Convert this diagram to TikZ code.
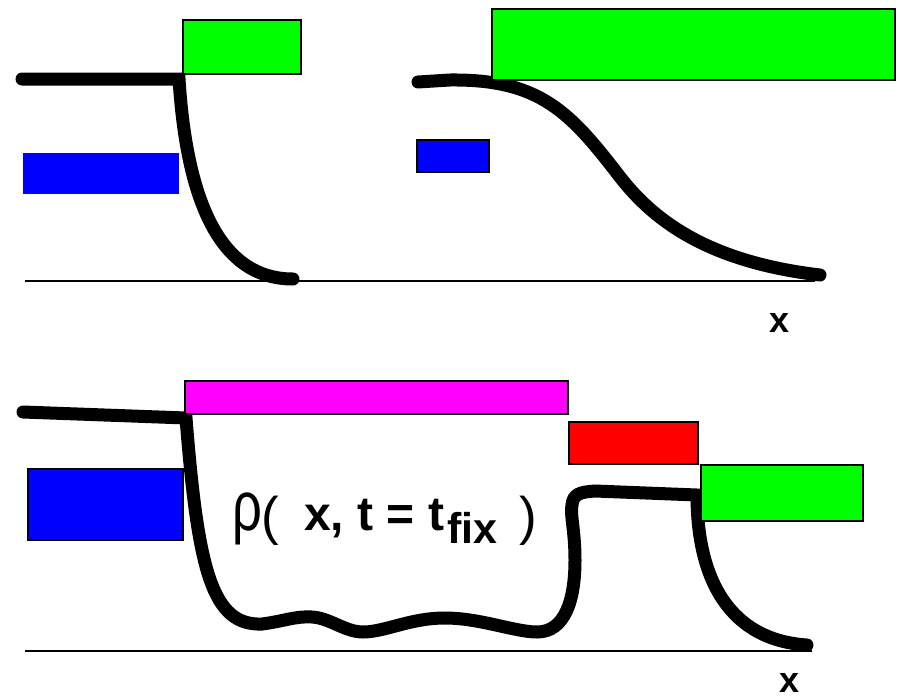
\documentclass[tikz,border=0pt]{standalone}
\usepackage{fontspec}
\setmainfont{Liberation Sans}
\begin{document}
\begin{tikzpicture}[x=1pt,y=-1pt,
  curve/.style={line width=13pt,line cap=round,line join=miter,black},
  axis/.style={line width=2pt,black},
  bar/.style={draw=black,line width=1.3pt},
  lbl/.style={inner sep=0pt,anchor=base west}]
\definecolor{pgreen}{RGB}{0,255,0}
\definecolor{pblue}{RGB}{0,0,255}
\definecolor{pmag}{RGB}{255,0,255}
\definecolor{pred}{RGB}{255,0,0}
\useasboundingbox[fill=white] (0,0) rectangle (899,699);
% axes
\draw[axis] (25,281) -- (815,281);
\draw[axis] (25,651) -- (812,651);
% curves
\draw[curve] (22,79) -- (179,79) .. controls (186,190) and (215,279) .. (293,279);
\draw[curve] (418,82) -- (450,80) .. controls (540,79) and (570,112) .. (620,177)
  .. controls (655,222) and (710,262) .. (820,275);
\draw[curve] (23,412) -- (186,418) .. controls (198,570) and (212,626) .. (262,624)
  .. controls (285,621) and (295,616) .. (312,617)
  .. controls (330,618) and (345,632) .. (363,632)
  .. controls (385,632) and (410,618) .. (445,618)
  .. controls (480,618) and (515,632) .. (537,632)
  .. controls (565,632) and (575,600) .. (575,560)
  .. controls (575,530) and (570,515) .. (572,505)
  .. controls (573,494) and (580,492) .. (595,491)
  -- (697,495) .. controls (697,580) and (730,640) .. (807,645);
% boxes
\draw[fill=pgreen,bar] (183,20) rectangle (301,74);
\fill[pblue] (23,153) rectangle (179,194);
\draw[fill=pgreen,bar] (492,9) rectangle (895,80);
\draw[fill=pblue,bar] (417,140) rectangle (489,172);
\draw[fill=pmag,bar] (185,381) rectangle (568,414);
\draw[fill=pred,bar] (569,422) rectangle (698,464);
\draw[fill=pgreen,bar] (701,465) rectangle (863,521);
\draw[fill=pblue,bar] (28,469) rectangle (183,540);
% labels
\node[inner sep=0pt,anchor=base] (x1) at (780,332) {\fontsize{36}{38}\selectfont\bfseries x};
\node[inner sep=0pt,anchor=base] (x2) at (789,692) {\fontsize{36}{38}\selectfont\bfseries x};
\node[lbl,xscale=0.75] (rho) at (232,530) {\fontsize{70}{72}\selectfont ρ};
\node[lbl] (lp) at (261,534) {\fontsize{53}{55}\selectfont (};
\node[lbl] (mid) at (304,530) {\fontsize{48}{50}\selectfont\bfseries x, t = t};
\node[lbl] (fix) at (447,543) {\fontsize{43}{45}\selectfont\bfseries fix};
\node[lbl] (rp) at (519,534) {\fontsize{53}{55}\selectfont )};
\end{tikzpicture}
\end{document}
